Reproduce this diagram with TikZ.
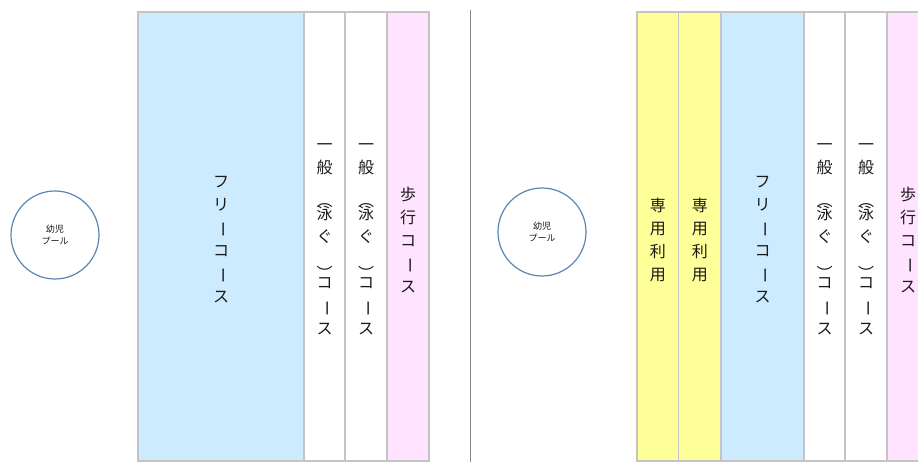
\documentclass[tikz,border=0pt]{standalone}
\usepackage{fontspec}
\usepackage{graphicx}
\usepackage{tikz}
\usepackage{xcolor}
\usetikzlibrary{positioning}
\newfontfamily\jpfont{Noto Sans CJK JP}
\definecolor{lanegrey}{HTML}{C4C4C4}
\definecolor{freeblue}{HTML}{CCEBFE}
\definecolor{ownyellow}{HTML}{FFFF99}
\definecolor{walkpink}{HTML}{FFE3FF}
\definecolor{poolblue}{HTML}{5A86B2}
\definecolor{labelgrey}{HTML}{1A1A1A}
\newcommand{\tatebar}{\rotatebox[origin=c]{-90}{ー}}
\newcommand{\tateopen}{\raisebox{-0.58em}[0pt][0pt]{︵}}
\newcommand{\tateclose}{\raisebox{-0.85em}[0pt][0pt]{︶}}

\begin{document}
\begin{tikzpicture}[
            x=1pt, y=-1pt,
            lane/.style={draw=lanegrey, line width=1.2pt, minimum height=449pt,
                inner sep=0pt, outer sep=0pt},
            lanetext/.style={align=center, text=labelgrey, inner sep=0pt, yshift=-3pt,
                font=\jpfont\fontsize{16}{23}\selectfont},
            free/.style={lane, fill=freeblue},
            general/.style={lane, fill=white},
            walk/.style={lane, fill=walkpink},
            own/.style={lane, fill=ownyellow},
            pool/.style={circle, draw=poolblue, line width=1.2pt, minimum size=88pt,
                inner sep=0pt, align=center, text=labelgrey,
                font=\jpfont\fontsize{9}{11.5}\selectfont},
        ]
            \useasboundingbox (0,0) rectangle (918,462);
            \clip (0,0) rectangle (918,462);
            \node[pool] (poolA) at (55,235) {幼児\\プール};
            \node[free, minimum width=166pt, anchor=north west] (freeA) at (138,12) {};
            \node[general, minimum width=41pt, right=0pt of freeA] (genA1) {};
            \node[general, minimum width=42pt, right=0pt of genA1] (genA2) {};
            \node[walk, minimum width=42pt, right=0pt of genA2] (walkA) {};
            \node[lanetext] (freeAtext) at (freeA.center)
                {フ\\リ\\\tatebar\\コ\\\tatebar\\ス};
            \node[lanetext] (genA1text) at (genA1.center)
                {一\\般\\\tateopen\\泳\\ぐ\\\tateclose\\コ\\\tatebar\\ス};
            \node[lanetext] (genA2text) at (genA2.center)
                {一\\般\\\tateopen\\泳\\ぐ\\\tateclose\\コ\\\tatebar\\ス};
            \node[lanetext] (walkAtext) at (walkA.center)
                {歩\\行\\コ\\\tatebar\\ス};
            \coordinate (sepTop) at (470,10);
            \coordinate (sepBottom) at (470,462);
            \draw[lanegrey!70!black, line width=1pt] (sepTop) -- (sepBottom);
            \node[pool] (poolB) at (542,232) {幼児\\プール};
            \node[own, minimum width=41.5pt, anchor=north west] (ownB1) at (637,12) {};
            \node[own, minimum width=42.5pt, right=0pt of ownB1] (ownB2) {};
            \node[free, minimum width=83pt, right=0pt of ownB2] (freeB) {};
            \node[general, minimum width=41pt, right=0pt of freeB] (genB1) {};
            \node[general, minimum width=42pt, right=0pt of genB1] (genB2) {};
            \node[walk, minimum width=42pt, right=0pt of genB2] (walkB) {};
            \node[lanetext] (ownB1text) at (ownB1.center) {専\\用\\利\\用};
            \node[lanetext] (ownB2text) at (ownB2.center) {専\\用\\利\\用};
            \node[lanetext] (freeBtext) at (freeB.center)
                {フ\\リ\\\tatebar\\コ\\\tatebar\\ス};
            \node[lanetext] (genB1text) at (genB1.center)
                {一\\般\\\tateopen\\泳\\ぐ\\\tateclose\\コ\\\tatebar\\ス};
            \node[lanetext] (genB2text) at (genB2.center)
                {一\\般\\\tateopen\\泳\\ぐ\\\tateclose\\コ\\\tatebar\\ス};
            \node[lanetext] (walkBtext) at (walkB.center)
                {歩\\行\\コ\\\tatebar\\ス};
        \end{tikzpicture}
\end{document}
